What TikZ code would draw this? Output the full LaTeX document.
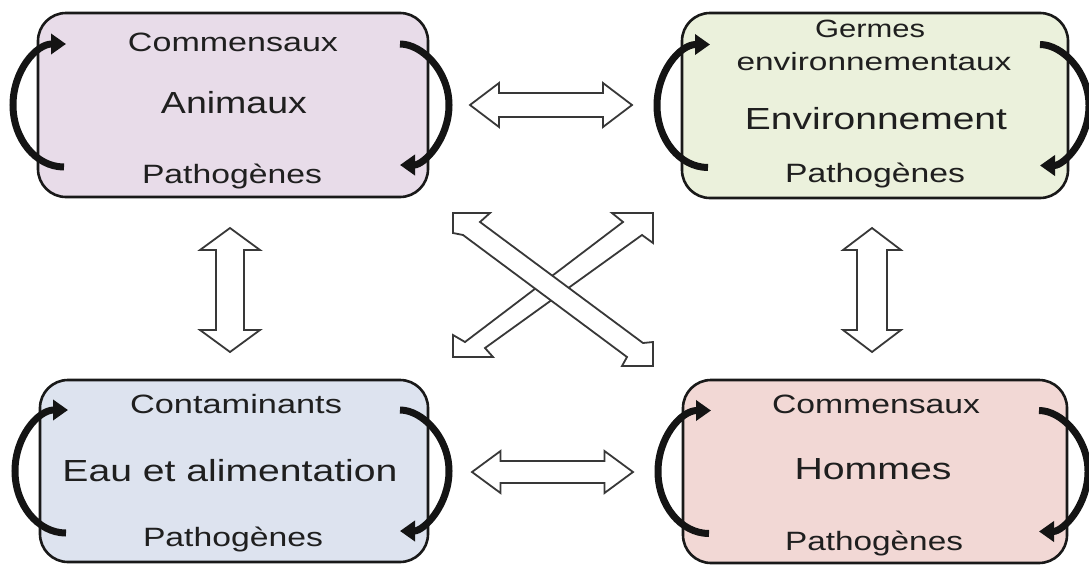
\documentclass[tikz,border=0pt]{standalone}
\usepackage{fontspec}
\setmainfont{Liberation Sans}
\usepackage{graphicx}
\usetikzlibrary{calc,arrows.meta}
\definecolor{boxA}{HTML}{E8DCE9}
\definecolor{boxE}{HTML}{EBF1DC}
\definecolor{boxW}{HTML}{DDE3EF}
\definecolor{boxH}{HTML}{F2D8D5}
\newcommand\wtxt[3]{\resizebox{#1pt}{\height}{\fontsize{#2pt}{#2pt}\selectfont #3}}
\newcommand\loopsfor[1]{%
  \draw[cycarrow] ($(#1.west)+(26,62)$) .. controls ($(#1.west)+(-2,62)$) and ($(#1.west)+(-25,34)$) .. ($(#1.west)+(-25,0)$) .. controls ($(#1.west)+(-25,-34)$) and ($(#1.west)+(-2,-61)$) .. ($(#1.west)+(28,-61)$);
  \draw[cycarrow] ($(#1.east)+(-28,-61)$) .. controls ($(#1.east)+(-6,-61)$) and ($(#1.east)+(21,-34)$) .. ($(#1.east)+(21,0)$) .. controls ($(#1.east)+(21,34)$) and ($(#1.east)+(-4,60)$) .. ($(#1.east)+(-28,60)$);
}
\begin{document}
\begin{tikzpicture}[x=1pt,y=-1pt,
  box/.style={draw=black!90, line width=2.6pt, rounded corners=28pt, inner sep=0pt, outer sep=0pt},
  lbl/.style={anchor=base, inner sep=0pt, text=black!88},
  cycarrow/.style={line width=7pt, black!92, -{Triangle[length=15pt,width=20pt]}},
  hollow/.style={draw=black!78, line width=1.8pt, fill=white, line join=miter}]
\useasboundingbox (0,0) rectangle (1089,565);

% boxes
\node[box, fill=boxA, minimum width=390pt, minimum height=184pt] (A) at (233,105) {};
\node[box, fill=boxE, minimum width=386pt, minimum height=185pt] (E) at (875,105.5) {};
\node[box, fill=boxW, minimum width=388pt, minimum height=182pt] (W) at (234,471) {};
\node[box, fill=boxH, minimum width=384pt, minimum height=183pt] (H) at (875,471.5) {};

% loops
\loopsfor{A}
\loopsfor{E}
\loopsfor{W}
\loopsfor{H}

% texts
\node[lbl] (a1) at (233,51) {\wtxt{210}{26.5}{Commensaux}};
\node[lbl] (a2) at (234,113) {\wtxt{146}{30.5}{Animaux}};
\node[lbl] (a3) at (232,183) {\wtxt{180}{26.5}{Pathogènes}};

\node[lbl] (e0) at (870,37) {\wtxt{110}{25}{Germes}};
\node[lbl] (e1) at (874,70) {\wtxt{275}{25}{environnementaux}};
\node[lbl] (e2) at (876,129) {\wtxt{262}{30.5}{Environnement}};
\node[lbl] (e3) at (875,182) {\wtxt{180}{26.5}{Pathogènes}};

\node[lbl] (w1) at (236,413) {\wtxt{212}{26.5}{Contaminants}};
\node[lbl] (w2) at (230,481) {\wtxt{335}{30.5}{Eau et alimentation}};
\node[lbl] (w3) at (233,546) {\wtxt{180}{26.5}{Pathogènes}};

\node[lbl] (h1) at (876,413) {\wtxt{208}{26.5}{Commensaux}};
\node[lbl] (h2) at (873,479) {\wtxt{157}{30.5}{Hommes}};
\node[lbl] (h3) at (874,550) {\wtxt{178}{26.5}{Pathogènes}};

% hollow double arrows
\begin{scope}[shift={(551,105)}]
  \draw[hollow] (-81,0) -- (-52,-22) -- (-52,-12) -- (52,-12) -- (52,-22) -- (81,0) -- (52,22) -- (52,12) -- (-52,12) -- (-52,22) -- cycle;
\end{scope}
\begin{scope}[shift={(552.5,472)}]
  \draw[hollow] (-80.5,0) -- (-52,-21) -- (-52,-11) -- (52,-11) -- (52,-21) -- (80.5,0) -- (52,21) -- (52,11) -- (-52,11) -- (-52,21) -- cycle;
\end{scope}
\begin{scope}[shift={(230,290)}]
  \draw[hollow] (0,-62) -- (30,-40) -- (14,-40) -- (14,40) -- (30,40) -- (0,62) -- (-30,40) -- (-14,40) -- (-14,-40) -- (-30,-40) -- cycle;
\end{scope}
\begin{scope}[shift={(872,290)}]
  \draw[hollow] (0,-62) -- (29,-40) -- (15,-40) -- (15,40) -- (29,40) -- (0,62) -- (-29,40) -- (-15,40) -- (-15,-40) -- (-29,-40) -- cycle;
\end{scope}

% crossing arrows
\draw[hollow] (653,213) -- (653,243) -- (642,235) -- (485,348) -- (493,357) -- (453,357) -- (453,335) -- (465,342) -- (623,222) -- (612,213) -- cycle;
\draw[hollow] (453,213) -- (490,213) -- (480,222) -- (643,343) -- (653,342) -- (653,366) -- (622,366) -- (627,357) -- (463,235) -- (453,233) -- cycle;
\end{tikzpicture}
\end{document}
